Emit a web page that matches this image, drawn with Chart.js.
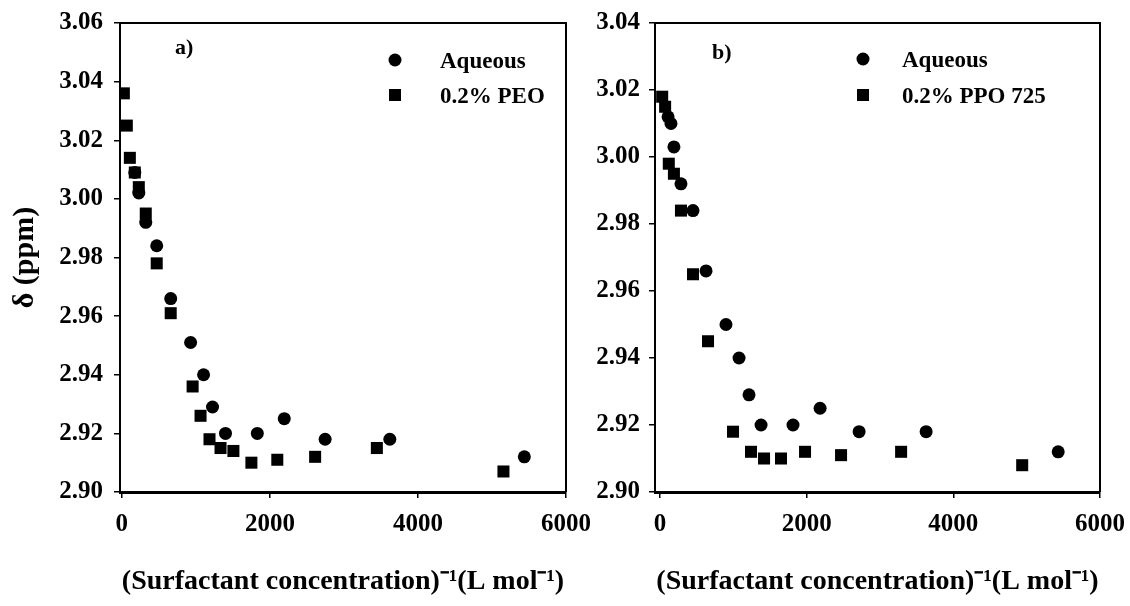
<!DOCTYPE html>
<html>
<head>
<meta charset="utf-8">
<script src="https://cdn.jsdelivr.net/npm/chart.js@4.4.0/dist/chart.umd.min.js"></script>
<style>
  html, body { margin: 0; padding: 0; background: #fff; }
  #wrap { position: relative; width: 1130px; height: 606px; overflow: hidden; }
  canvas { position: absolute; top: 0; }
  #left { left: 0; }
  #right { left: 575px; }
</style>
</head>
<body>
<div id="wrap">
  <canvas id="left" width="600" height="606"></canvas>
  <canvas id="right" width="555" height="606"></canvas>
</div>
<script>
// panel a) : aqueous vs 0.2% PEO
const aqA_x = [175, 229, 323, 471, 660, 929, 1104, 1225, 1400, 1830, 2194, 2746, 3620, 5437];
const aqA_y = [3.009, 3.002, 2.992, 2.984, 2.966, 2.951, 2.940, 2.929, 2.920, 2.920, 2.925, 2.918, 2.918, 2.912];
const peo_x = [27, 67, 108, 175, 229, 323, 471, 660, 956, 1063, 1184, 1333, 1507, 1750, 2100, 2611, 3445, 5155];
const peo_y = [3.036, 3.025, 3.014, 3.009, 3.004, 2.995, 2.978, 2.961, 2.936, 2.926, 2.918, 2.915, 2.914, 2.910, 2.911, 2.912, 2.915, 2.907];

// panel b) : aqueous vs 0.2% PPO 725
const aqB_x = [110, 150, 190, 286, 450, 628, 900, 1078, 1214, 1378, 1814, 2183, 2715, 3629, 5430];
const aqB_y = [3.012, 3.010, 3.003, 2.992, 2.984, 2.966, 2.950, 2.940, 2.929, 2.920, 2.920, 2.925, 2.918, 2.918, 2.912];
const ppo_x = [30, 70, 120, 190, 286, 450, 655, 996, 1241, 1419, 1650, 1978, 2469, 3288, 4939];
const ppo_y = [3.018, 3.015, 2.998, 2.995, 2.984, 2.965, 2.945, 2.918, 2.912, 2.910, 2.910, 2.912, 2.911, 2.912, 2.908];

const xTicks = [0, 2000, 4000, 6000];
const yTicksA = [2.90, 2.92, 2.94, 2.96, 2.98, 3.00, 3.02, 3.04, 3.06];
const yTicksB = [2.90, 2.92, 2.94, 2.96, 2.98, 3.00, 3.02, 3.04];

const xTitle = '(Surfactant concentration)\u207B\u00B9(L mol\u207B\u00B9)';
const serif = "'Liberation Serif', 'Times New Roman', serif";

function pts(xs, ys) {
  return xs.map((x, i) => ({ x: x, y: ys[i] }));
}

// frame on top + right, panel letter and legend
const decor = {
  id: 'decor',
  afterDraw(chart, args, o) {
    const ctx = chart.ctx, a = chart.chartArea;
    ctx.save();
    ctx.strokeStyle = '#000';
    ctx.lineWidth = 2;
    ctx.beginPath();
    ctx.moveTo(a.left, a.top);
    ctx.lineTo(a.right, a.top);
    ctx.lineTo(a.right, a.bottom);
    ctx.stroke();

    ctx.fillStyle = '#000';
    ctx.font = 'bold 22px ' + serif;
    ctx.textBaseline = 'middle';
    ctx.textAlign = 'left';
    ctx.fillText(o.label, o.labelX, o.labelY);

    ctx.font = 'bold 23px ' + serif;
    // circle
    ctx.beginPath();
    ctx.arc(o.legX, o.legY1, 6.5, 0, Math.PI * 2);
    ctx.fill();
    ctx.fillText(o.names[0], o.textX, o.legY1 + 2);
    // square
    ctx.fillRect(o.legX - 6, o.legY2 - 6, 12, 12);
    ctx.fillText(o.names[1], o.textX, o.legY2 + 2);
    ctx.restore();
  }
};

function makeChart(id, cfg) {
  return new Chart(document.getElementById(id), {
    type: 'scatter',
    data: {
      datasets: [
        { label: cfg.names[0], data: pts(cfg.aqX, cfg.aqY), pointStyle: 'circle', pointRadius: 6.5,
          backgroundColor: '#000', borderWidth: 0, pointHoverRadius: 6.5 },
        { label: cfg.names[1], data: pts(cfg.sX, cfg.sY), pointStyle: 'rect', pointRadius: 8.5,
          backgroundColor: '#000', borderWidth: 0, pointHoverRadius: 8.5 }
      ]
    },
    options: {
      responsive: false,
      animation: false,
      layout: { padding: { top: 23, right: cfg.padRight, left: 0, bottom: 0 } },
      plugins: {
        legend: { display: false },
        tooltip: { enabled: false },
        decor: cfg.decor
      },
      scales: {
        x: {
          type: 'linear',
          min: cfg.xMin, max: 6000,
          afterBuildTicks: s => { s.ticks = xTicks.map(v => ({ value: v })); },
          afterFit: s => { s.height = 114; s.paddingLeft = 0; s.paddingRight = 0; },
          border: { display: true, color: '#000', width: 3 },
          grid: { drawOnChartArea: false, drawTicks: true, tickLength: 6, color: '#000', lineWidth: 1.5 },
          ticks: { color: '#000', padding: 12, maxRotation: 0, callback: v => String(v),
                   font: { family: serif, weight: 'bold', size: 25 } },
          title: { display: true, text: xTitle, color: '#000', padding: 7,
                   font: { family: serif, weight: 'bold', size: 28 } }
        },
        y: {
          type: 'linear',
          min: 2.90, max: cfg.yMax,
          afterBuildTicks: s => { s.ticks = cfg.yTicks.map(v => ({ value: v })); },
          afterFit: s => { s.width = cfg.yWidth; s.paddingTop = 0; s.paddingBottom = 0; },
          border: { display: true, color: '#000', width: 2 },
          grid: { drawOnChartArea: false, drawTicks: true, tickLength: 6, color: '#000', lineWidth: 1.5 },
          ticks: { color: '#000', padding: cfg.yPad, callback: v => v.toFixed(2),
                   font: { family: serif, weight: 'bold', size: 25 } },
          title: { display: cfg.yTitle, text: '\u03B4 (ppm)', color: '#000', padding: 7,
                   font: { family: serif, weight: 'bold', size: 30 } }
        }
      }
    },
    plugins: [decor]
  });
}

makeChart('left', {
  aqX: aqA_x, aqY: aqA_y, sX: peo_x, sY: peo_y,
  names: ['Aqueous', '0.2% PEO'],
  xMin: -25, yMax: 3.06, yTicks: yTicksA,
  yWidth: 120, yPad: 11, yTitle: true, padRight: 34,
  decor: { label: 'a)', labelX: 175, labelY: 48, legX: 395, legY1: 60, legY2: 95, textX: 440,
           names: ['Aqueous', '0.2% PEO'] }
});

makeChart('right', {
  aqX: aqB_x, aqY: aqB_y, sX: ppo_x, sY: ppo_y,
  names: ['Aqueous', '0.2% PPO 725'],
  xMin: -68, yMax: 3.04, yTicks: yTicksB,
  yWidth: 80, yPad: 9, yTitle: false, padRight: 30,
  decor: { label: 'b)', labelX: 137, labelY: 53, legX: 288, legY1: 59, legY2: 95, textX: 327,
           names: ['Aqueous', '0.2% PPO 725'] }
});
</script>
</body>
</html>
